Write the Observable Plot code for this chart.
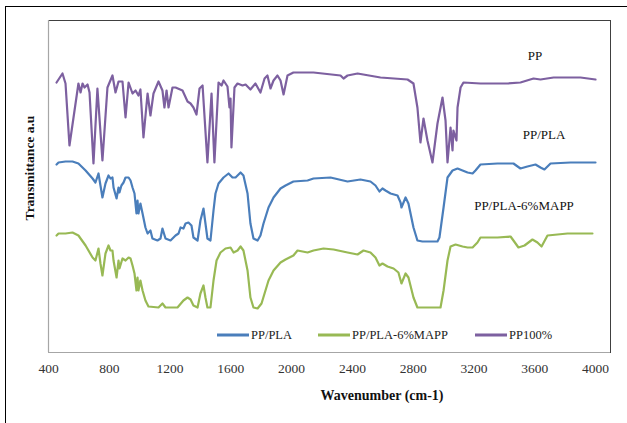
<!DOCTYPE html>
<html>
<head>
<meta charset="utf-8">
<script src="https://cdn.jsdelivr.net/npm/d3@7"></script>
<script src="https://cdn.jsdelivr.net/npm/@observablehq/plot@0.6"></script>
<style>
  html, body { margin: 0; padding: 0; background: #fff; }
  #wrap { position: relative; width: 627px; height: 423px; overflow: hidden; font-family: "Liberation Serif", "Times New Roman", serif; }
  #outer { position: absolute; left: 5px; top: 6px; width: 700px; height: 500px; border: 1.5px solid #000; }
  #chart { position: absolute; left: 0; top: 0; }
  .lbl { position: absolute; transform: translate(-50%, -50%); white-space: nowrap; color: #111; }
  .leg { position: absolute; top: 335px; transform: translateY(-50%); display: flex; align-items: center; font-size: 12.5px; color: #222; white-space: nowrap; }
  .sw { display: inline-block; width: 32px; height: 2.5px; margin-right: 2px; }
</style>
</head>
<body>
<div id="wrap">
  <div id="outer"></div>
  <div id="chart"></div>
</div>
<script>
// ---- Data ----
const xTicks = [400, 800, 1200, 1600, 2000, 2400, 2800, 3200, 3600, 4000];

const seriesNames = ["PP/PLA", "PP/PLA-6%MAPP", "PP100%"];
const seriesColors = ["#4A7EBB", "#98B954", "#7D60A0"];

// PP100% (purple)
const ppWn = [453,492,512,538,597,611,624,637,657,670,696,722,755,788,821,841,861,887,907,927,953,973,992,1005,1025,1052,1071,1091,1124,1150,1163,1177,1190,1216,1236,1282,1315,1335,1354,1374,1394,1414,1446,1473,1492,1519,1539,1552,1578,1591,1598,1604,1624,1644,1677,1697,1729,1762,1795,1822,1841,1861,1881,1907,1927,1947,1973,2012,2144,2322,2342,2368,2434,2585,2763,2802,2828,2848,2868,2894,2927,2960,2993,3013,3026,3046,3059,3065,3085,3092,3112,3131,3243,3421,3506,3592,3638,3724,3901,4000];
const ppT  = [135,139.5,134.5,103.5,134.5,130,134.5,132.5,134,130,94.5,132,96,132.5,138.5,130,135.5,135.5,117.5,135,129.5,131,128.5,131.5,107.5,129.5,118.5,129.5,135.5,131,122.5,131,122.5,132.5,132.5,131,125.5,124.5,122.5,119,132,133.5,95,129.5,95,135,133.5,136,133,122.5,127,102.5,132.5,134.5,133.5,134,131.5,134.5,130,137,138.5,132,136,138.5,136,129,138.5,140,140,138.5,137,138.5,139.5,137.5,136.5,134.5,122.5,105,117,106,95,114.5,127.5,116,95,112.5,101,111,106,122.5,132.5,135,134.5,134.5,135,137,136.5,137.5,137.5,136.5];

// PP/PLA (blue)
const plaWn = [453,466,512,558,597,644,690,709,729,742,755,775,795,808,821,828,848,861,867,880,894,907,927,940,953,966,979,986,992,1005,1019,1038,1052,1071,1084,1117,1137,1150,1170,1203,1236,1256,1269,1288,1302,1321,1341,1354,1381,1400,1420,1433,1446,1466,1486,1499,1519,1552,1585,1611,1631,1664,1683,1710,1729,1749,1776,1795,1815,1848,1881,1927,1960,2012,2105,2144,2256,2368,2453,2519,2552,2578,2598,2618,2651,2697,2717,2723,2750,2769,2802,2828,2861,2960,2973,3000,3026,3059,3092,3125,3158,3191,3210,3243,3355,3460,3506,3552,3605,3638,3664,3704,3836,4000];
const plaT  = [94,95,95.5,95.5,94.5,91,87,85,89.5,83.5,77.5,84.5,88.5,87,87.5,82.5,77,82.5,80,83.5,85,87.5,87.5,86,82.5,79.5,69.5,76,69.5,74.5,69.5,62.5,59.5,61,57,56,57,62,57,56,58.5,59.5,62.5,62,64.5,65,63.5,57.5,56,66,72,64.5,57,56,71,79.5,84.5,87.5,89.5,87.5,87.5,90,88.5,79.5,64.5,57,56,58.5,64.5,72.5,77.5,82,83.5,85.5,86,87,87.5,85.5,86.5,85.5,83.5,80.5,82,81,79.5,78.5,75,72.5,77.5,74.5,62.5,56,55.5,55.5,57.5,72.5,87.5,91,92,91,90,89.5,91,94,94.5,94.5,92,93,94,92.5,91.5,94.5,95,95];

// PP/PLA-6%MAPP (green)
const mappWn = [453,466,512,558,597,644,690,709,729,742,755,775,795,808,821,828,848,861,867,887,907,927,940,953,966,979,986,992,1005,1019,1038,1058,1124,1150,1170,1249,1288,1315,1335,1354,1381,1400,1420,1433,1446,1466,1486,1506,1532,1565,1598,1618,1644,1664,1683,1710,1729,1749,1776,1802,1822,1848,1881,1927,1960,2012,2039,2105,2144,2210,2276,2368,2434,2473,2519,2552,2578,2598,2631,2671,2703,2723,2750,2769,2802,2828,2980,3000,3026,3046,3079,3125,3158,3191,3223,3243,3355,3441,3460,3493,3533,3585,3618,3645,3684,3816,3980];
const mappT  = [58.5,59.5,59.5,60,58.5,53.5,47.5,46,52,44.5,38.5,49.5,53.5,51,51,46,37.5,46,42,47,46,47.5,47,43.5,39.5,31,37.5,31,36,31,26,23,22.5,24.5,22.5,22.5,26,27.5,26.5,23.5,22.5,29.5,33.5,27.5,22.5,22.5,36,46,50,52,52.5,50,51,53,51,41,27.5,22.5,22,24.5,29.5,36,41,45,46.5,48.5,51,50,51,52,51.5,50,49,51,50,47.5,43.5,44.5,43,42,40,34.5,39.5,37.5,27.5,22.5,22.5,31,46,53,54,53,52.5,52.5,55,57.5,57.5,58,56,52.5,53.5,56.5,55,53,58.5,59.5,59.5];

// ---- Build table ----
const rows = [];
[[plaWn, plaT, seriesNames[0]], [mappWn, mappT, seriesNames[1]], [ppWn, ppT, seriesNames[2]]]
  .forEach(([wn, t, name]) => wn.forEach((w, i) => rows.push({wn: w, t: t[i], series: name})));

const plot = Plot.plot({
  width: 627,
  height: 423,
  marginLeft: 48,
  marginRight: 17,
  marginTop: 20,
  marginBottom: 71,
  style: { fontFamily: "'Liberation Serif', 'Times New Roman', serif", fontSize: "13.5px", color: "#333", background: "transparent" },
  x: { domain: [400, 4000], range: [48, 595], ticks: xTicks, tickFormat: d => String(d), tickSize: 0, tickPadding: 11, label: null },
  y: { domain: [0, 166], axis: null },
  color: { domain: seriesNames, range: seriesColors },
  marks: [
    Plot.frame({ stroke: "#404040", strokeWidth: 1 }),
    Plot.ruleY([0], { stroke: "#a6a6a6", strokeWidth: 1.2 }),
    Plot.ruleX([400], { stroke: "#a6a6a6", strokeWidth: 1.2 }),
    Plot.line(rows, { x: "wn", y: "t", z: "series", stroke: "series", strokeWidth: 2.2, strokeLinejoin: "round" })
  ]
});
document.getElementById("chart").appendChild(plot);

// ---- Text overlays ----
const wrap = document.getElementById("wrap");
function addLabel(text, x, y, css) {
  const d = document.createElement("div");
  d.className = "lbl";
  d.textContent = text;
  d.style.left = x + "px";
  d.style.top = y + "px";
  Object.assign(d.style, css || {});
  wrap.appendChild(d);
}
addLabel("PP", 535, 56, { fontSize: "13px" });
addLabel("PP/PLA", 544, 135, { fontSize: "13px" });
addLabel("PP/PLA-6%MAPP", 524, 206, { fontSize: "13px" });
addLabel("Wavenumber (cm-1)", 382, 396, { fontSize: "14px", fontWeight: "bold" });
addLabel("Transmittance a.u", 30, 168, { fontSize: "13.5px", fontWeight: "bold", transform: "translate(-50%, -50%) rotate(-90deg)" });

const legX = [217, 318, 475];
seriesNames.forEach((name, i) => {
  const g = document.createElement("div");
  g.className = "leg";
  g.style.left = legX[i] + "px";
  const sw = document.createElement("span");
  sw.className = "sw";
  sw.style.background = seriesColors[i];
  const tx = document.createElement("span");
  tx.textContent = name;
  g.appendChild(sw);
  g.appendChild(tx);
  wrap.appendChild(g);
});
</script>
</body>
</html>
